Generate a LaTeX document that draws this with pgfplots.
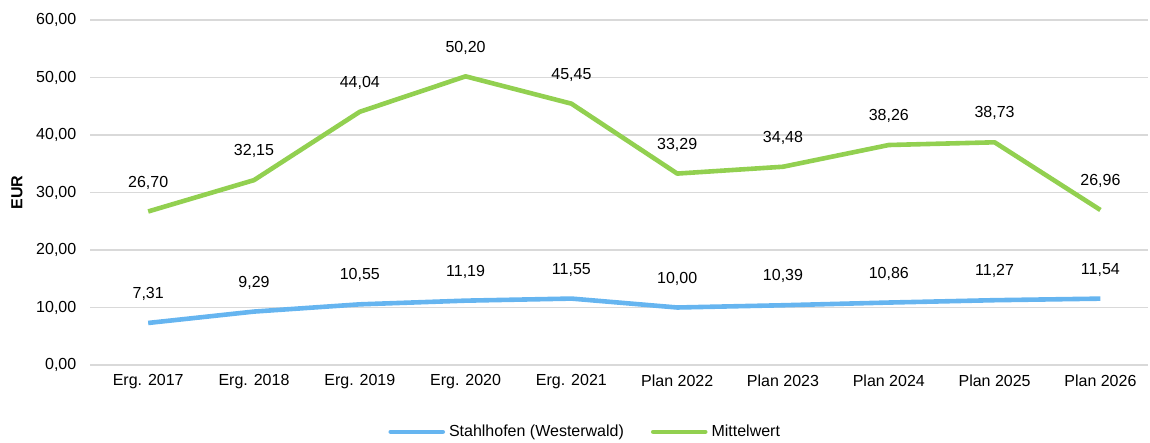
\documentclass[border=0pt]{standalone}
\usepackage{pgfplots}
\pgfplotsset{compat=1.18}
\usepackage{fontspec}
\setmainfont{Liberation Sans}
\definecolor{cblue}{HTML}{66B5F0}
\definecolor{cgreen}{HTML}{92D050}
\definecolor{cgrid}{HTML}{D9D9D9}
\begin{document}
\fontsize{8pt}{9.6pt}\selectfont
\begin{tikzpicture}
\begin{axis}[
  at={(45pt,39pt)}, anchor=south west,
  scale only axis, width=529pt, height=172.5pt,
  xmin=-0.55, xmax=9.45, ymin=0, ymax=60,
  xtick={0,...,9},
  xticklabels={Erg. 2017,Erg. 2018,Erg. 2019,Erg. 2020,Erg. 2021,Plan 2022,Plan 2023,Plan 2024,Plan 2025,Plan 2026},
  ytick={0,10,...,60},
  axis line style={draw=none},
  major tick length=0pt,
  ymajorgrids, grid style={cgrid, line width=0.8pt},
  /pgf/number format/assume math mode=true,
  yticklabel={\pgfmathprintnumber[fixed,fixed zerofill,precision=2,use comma]{\tick}},
  yticklabel style={xshift=-4pt},
  xticklabel style={yshift=-2pt},
  tick label style={font=\fontsize{8pt}{9.6pt}\selectfont},
  ylabel={\textbf{EUR}},
  ylabel style={font=\fontsize{8pt}{9.6pt}\selectfont, at={(axis description cs:-0.069,0.5)}, anchor=center},
  nodes near coords={\pgfmathprintnumber[fixed,fixed zerofill,precision=2,use comma,assume math mode=true]{\pgfplotspointmeta}},
  nodes near coords style={font=\fontsize{8pt}{9.6pt}\selectfont, anchor=south, inner sep=0pt, yshift=10pt, text=black},
  legend style={at={(0.469,-0.194)}, anchor=center, draw=none, legend columns=2, font=\fontsize{8pt}{9.6pt}\selectfont,
    /tikz/every even column/.append style={column sep=11.5pt}, /tikz/every odd column/.append style={inner xsep=1pt},
    legend cell align=left},
  legend image code/.code={\draw[#1, line cap=round] (0pt,0pt) -- (26pt,0pt);},
  clip=false,
]
\addplot[cblue, line width=2.3pt, line join=round, no markers] coordinates {
(0,7.31) (1,9.29) (2,10.55) (3,11.19) (4,11.55) (5,10.00) (6,10.39) (7,10.86) (8,11.27) (9,11.54)};
\addlegendentry{Stahlhofen (Westerwald)}
\addplot[cgreen, line width=2.3pt, line join=round, no markers] coordinates {
(0,26.70) (1,32.15) (2,44.04) (3,50.20) (4,45.45) (5,33.29) (6,34.48) (7,38.26) (8,38.73) (9,26.96)};
\addlegendentry{Mittelwert}
\end{axis}
\pgfresetboundingbox
\path (0,0) rectangle (575pt,221.5pt);
\end{tikzpicture}
\end{document}
